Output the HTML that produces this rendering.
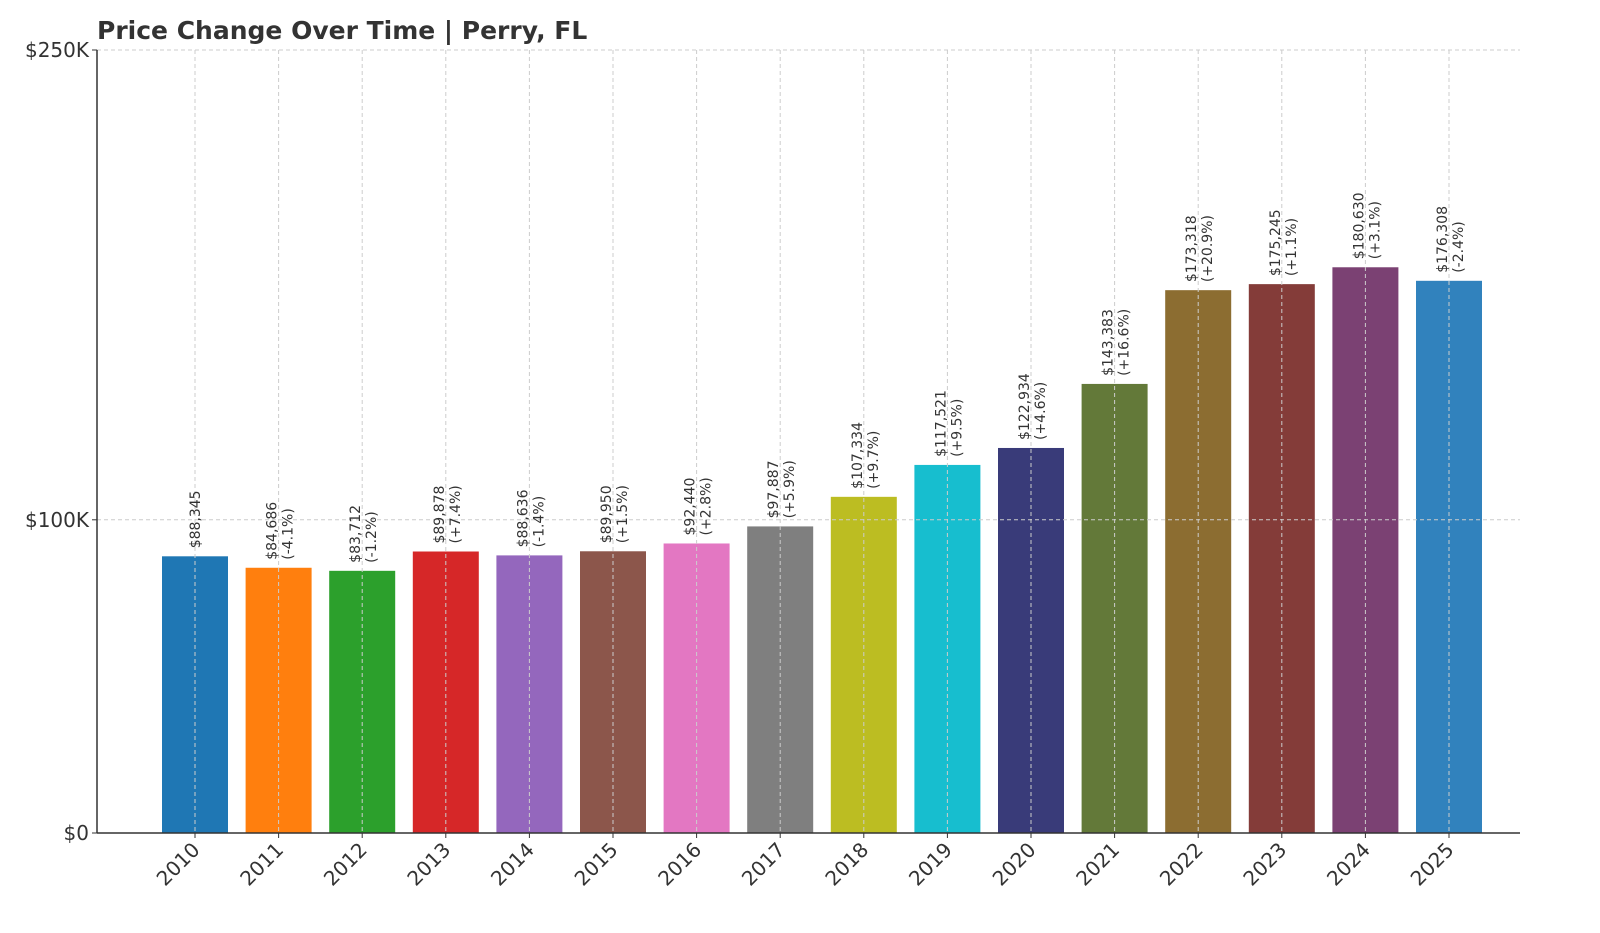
<!DOCTYPE html>
<html><head><meta charset="utf-8">
<style>
body{margin:0;background:#fff;}
svg{display:block;font-family:"DejaVu Sans","Liberation Sans",sans-serif;}
</style></head>
<body>
<svg id="chart" width="1600" height="933">
<text x="97" y="39" font-size="25" font-weight="bold" fill="#333">Price Change Over Time | Perry, FL</text>
</svg>
<script>
const years=["2010","2011","2012","2013","2014","2015","2016","2017","2018","2019","2020","2021","2022","2023","2024","2025"];
const values=[88345,84686,83712,89878,88636,89950,92440,97887,107334,117521,122934,143383,173318,175245,180630,176308];
const changes=["","-4.1%","-1.2%","+7.4%","-1.4%","+1.5%","+2.8%","+5.9%","+9.7%","+9.5%","+4.6%","+16.6%","+20.9%","+1.1%","+3.1%","-2.4%"];
const colors=["#1f77b4","#ff7f0e","#2ca02c","#d62728","#9467bd","#8c564b","#e377c2","#7f7f7f","#bcbd22","#17becf","#393b79","#637939","#8c6d31","#843c39","#7b4173","#3182bd"];
const yTicks=[0,100000,250000];
const yTickLabels=["$0","$100K","$250K"];
const NS="http://www.w3.org/2000/svg";
const svg=document.getElementById('chart');
const X0=97,X1=1520,Y0=833,Y1=50,YMAX=250000;
const y=v=>Y0-(v/YMAX)*(Y0-Y1);
const step=83.6,first=195,bw=66;
const x=i=>first+i*step;
function mk(t,a){const e=document.createElementNS(NS,t);for(const k in a)e.setAttribute(k,a[k]);svg.appendChild(e);return e;}
values.forEach((v,i)=>{
 const r=mk('rect',{x:x(i)-bw/2,y:y(v),width:bw,height:Y0-y(v),fill:colors[i]});
 
 
});
yTicks.forEach((t,i)=>{
 if(t>0){const g=mk('line',{x1:X0,x2:X1,y1:y(t),y2:y(t),stroke:'#ccc','stroke-dasharray':'4,3','stroke-width':1});
 
 }
 const tk=mk('line',{x1:X0-5,x2:X0,y1:y(t),y2:y(t),stroke:'#333'});
 
 
 const l=mk('text',{x:X0-8,y:y(t)+7,'text-anchor':'end','font-size':20,fill:'#333'});
 l.textContent=yTickLabels[i];
 
 
});
years.forEach((yr,i)=>{
 const g=mk('line',{x1:x(i),x2:x(i),y1:Y1,y2:Y0,stroke:'#ccc','stroke-dasharray':'4,3','stroke-width':1});
 
 
 const tk=mk('line',{x1:x(i),x2:x(i),y1:Y0,y2:Y0+5,stroke:'#333'});
 
 
 const l=mk('text',{x:0,y:0,'text-anchor':'end','font-size':20,fill:'#333',transform:`translate(${x(i)+6},${Y0+18}) rotate(-45)`});
 l.textContent=yr;
 
 
 const top=y(values[i])-8;
 const val='$'+values[i].toLocaleString('en-US');
 if(changes[i]){
  const t1=mk('text',{x:0,y:0,'font-size':14,fill:'#333',transform:`translate(${x(i)-2},${top}) rotate(-90)`});
  t1.textContent=val;
  
  
  const t2=mk('text',{x:0,y:0,'font-size':14,fill:'#333',transform:`translate(${x(i)+14},${top}) rotate(-90)`});
  t2.textContent='('+changes[i]+')';
  
  
 }else{
  const t1=mk('text',{x:0,y:0,'font-size':14,fill:'#333',transform:`translate(${x(i)+5},${top}) rotate(-90)`});
  t1.textContent=val;
  
  
 }
});
const ax=mk('line',{x1:X0,x2:X0,y1:Y1,y2:Y0,stroke:'#333','stroke-width':1.5});


const bx=mk('line',{x1:X0,x2:X1,y1:Y0,y2:Y0,stroke:'#333','stroke-width':1.5});


</script>
</body></html>
